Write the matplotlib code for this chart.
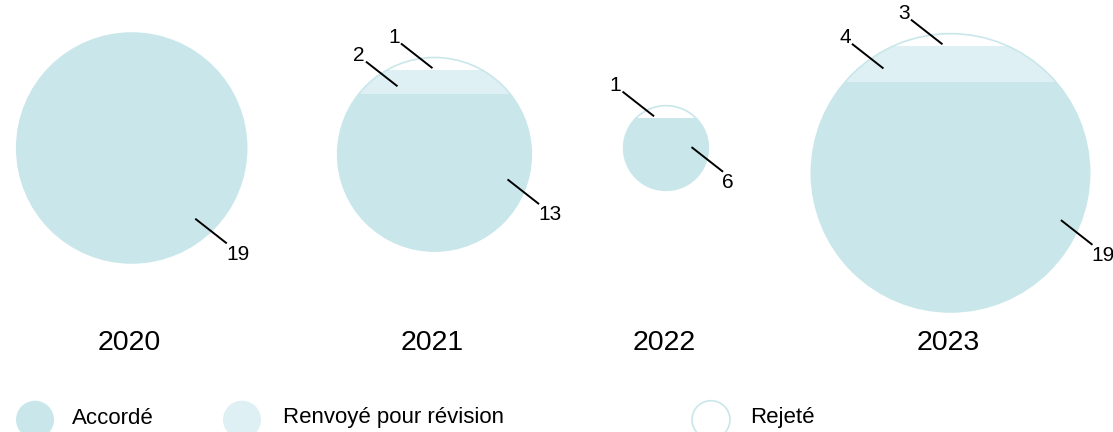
import matplotlib.pyplot as plt
from matplotlib.patches import Circle, Rectangle

plt.rcParams['font.family'] = ['Liberation Sans', 'DejaVu Sans']

# data (band sizes as drawn)
years = ["2020", "2021", "2022", "2023"]
accorde = [19, 13, 6, 19]
renvoye = [0, 2, 0, 3]
rejete = [0, 1, 1, 1]
# label texts as printed on the chart
accorde_lbl = ["19", "13", "6", "19"]
renvoye_lbl = ["", "2", "", "4"]
rejete_lbl = ["", "1", "1", "3"]

legend_names = ["Accordé", "Renvoyé pour révision", "Rejeté"]

# colours
c_acc = "#c9e7ea"
c_ren = "#def0f3"
c_rej = "white"
c_edge = "#c9e7ea"

# layout (pixel space)
unit = 12.1  # diameter px per dossier
cx = [131.7, 434.5, 666.0, 950.5]
cy = [148.0, 154.3, 148.0, 172.8]
acc_dx = [64.3, 73.8, 26.3, 111.2]
acc_dy = [71.3, 25.7, -0.3, 47.9]
ren_dx = [0, -37.8, 0, -67.8]
rej_dx = [0, -2.8, -12.7, -8.8]
lead = (30, 23.5)

fig = plt.figure(figsize=(11.13, 4.32), dpi=100)
ax = fig.add_axes([0, 0, 1, 1])
ax.set_xlim(0, 1113)
ax.set_ylim(432, 0)
ax.axis("off")

for i in range(len(years)):
    total = accorde[i] + renvoye[i] + rejete[i]
    r = total * unit / 2
    bottom = cy[i] + r
    clip = Circle((cx[i], cy[i]), r, transform=ax.transData)
    y0 = bottom
    bands = []
    for val, col in [(accorde[i], c_acc), (renvoye[i], c_ren), (rejete[i], c_rej)]:
        h = val * unit
        rect = Rectangle((cx[i] - r - 2, y0 - h), 2 * r + 4, h, facecolor=col,
                         edgecolor="none", zorder=1)
        ax.add_patch(rect)
        rect.set_clip_path(clip)
        bands.append((y0 - h, y0))
        y0 -= h
    ax.add_patch(Circle((cx[i], cy[i]), r, facecolor="none", edgecolor=c_edge,
                        lw=1.2, zorder=2))

    # accordé label (down-right)
    sx, sy = cx[i] + acc_dx[i], cy[i] + acc_dy[i]
    ex, ey = sx + lead[0], sy + lead[1]
    ax.plot([sx, ex], [sy, ey], color="black", lw=1.4, zorder=3)
    ax.text(ex, ey + 2, accorde_lbl[i], ha="left", va="top", fontsize=15, zorder=3)

    # renvoyé / rejeté labels (up-left)
    for lbl, dx, band in [(renvoye_lbl[i], ren_dx[i], bands[1]),
                          (rejete_lbl[i], rej_dx[i], bands[2])]:
        if not lbl:
            continue
        ex = cx[i] + dx
        ey = (band[0] + band[1]) / 2 + 4
        sx, sy = ex - lead[0], ey - lead[1]
        ax.plot([sx, ex], [sy, ey], color="black", lw=1.4, zorder=3)
        ax.text(sx - 2, sy - 1, lbl, ha="right", va="baseline", fontsize=15, zorder=3)

    ax.text(cx[i] - 2, 343, years[i], ha="center", va="center", fontsize=20.5)

# legend
leg_x = [35, 242, 711]
leg_tx = [72, 283, 750]
leg_cols = [c_acc, c_ren, c_rej]
for x, tx, col, name in zip(leg_x, leg_tx, leg_cols, legend_names):
    ax.add_patch(Circle((x, 419.7), 19, facecolor=col,
                        edgecolor=c_edge if col == c_rej else "none", lw=1.2))
    ax.text(tx, 418, name, ha="left", va="center", fontsize=16)

fig.savefig("out.png", dpi=100)
